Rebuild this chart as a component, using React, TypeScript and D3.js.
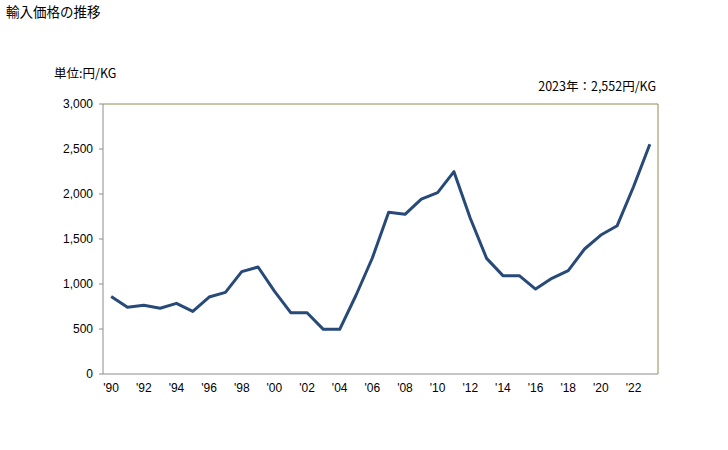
import React from "react";
import * as d3 from "d3";

const years = d3.range(1990, 2024);
const values = [860, 741, 763, 730, 785, 696, 855, 907, 1137, 1189, 920, 681, 681, 496, 496, 875, 1289, 1796, 1774, 1944, 2015, 2248, 1730, 1285, 1093, 1093, 944, 1063, 1148, 1389, 1544, 1648, 2081, 2552];
const yTicks = [0, 500, 1000, 1500, 2000, 2500, 3000];
const title = "輸入価格の推移";
const unitLabel = "単位:円/KG";
const noteLabel = "2023年：2,552円/KG";

const W = 728, H = 450;
const left = 103, right = 658, top = 104, bottom = 374;
const font = "'Liberation Sans', Arial, sans-serif";
const cjk = "'Noto Sans CJK JP', sans-serif";

export default function App() {
  const x = d3.scaleBand<number>().domain(years).range([left, right]);
  const y = d3.scaleLinear().domain([0, 3000]).range([bottom, top]);
  const line = d3.line<number>()
    .x((_, i) => (x(years[i]) as number) + x.bandwidth() / 2)
    .y((d) => y(d));
  const fmt = d3.format(",");
  return (
    <svg width={W} height={H} style={{ position: "absolute", left: 0, top: 0 }}>
      <rect width={W} height={H} fill="#fff" />
      <text x={6} y={17} fontSize={13.5} fontFamily={cjk} fill="#000">{title}</text>
      <text x={54} y={78} fontSize={12.5} fontFamily={cjk} fill="#000">{unitLabel}</text>
      <text x={656} y={91} fontSize={12.5} fontFamily={cjk} fill="#000" textAnchor="end">{noteLabel}</text>
      <line x1={left} x2={right} y1={top} y2={top} stroke="#948a4c" strokeWidth={1} />
      <line x1={right} x2={right} y1={top} y2={bottom} stroke="#948a4c" strokeWidth={1} />
      <line x1={left} x2={left} y1={top} y2={bottom} stroke="#8c8c8c" strokeWidth={1} />
      <line x1={left} x2={right} y1={bottom} y2={bottom} stroke="#8c8c8c" strokeWidth={1} />
      {yTicks.map((t) => (
        <g key={t}>
          <line x1={left - 4} x2={left} y1={y(t)} y2={y(t)} stroke="#8c8c8c" />
          <text x={93} y={y(t) + 4} fontSize={12} fontFamily={font} textAnchor="end" fill="#000">{fmt(t)}</text>
        </g>
      ))}
      {years.filter((yr) => yr % 2 === 0).map((yr) => (
        <text key={yr} x={(x(yr) as number) + x.bandwidth() / 2} y={392} fontSize={12} fontFamily={font} textAnchor="middle" fill="#000">
          {"'" + String(yr).slice(2)}
        </text>
      ))}
      <path d={line(values) || ""} fill="none" stroke="#274a78" strokeWidth={3} strokeLinejoin="round" />
    </svg>
  );
}
